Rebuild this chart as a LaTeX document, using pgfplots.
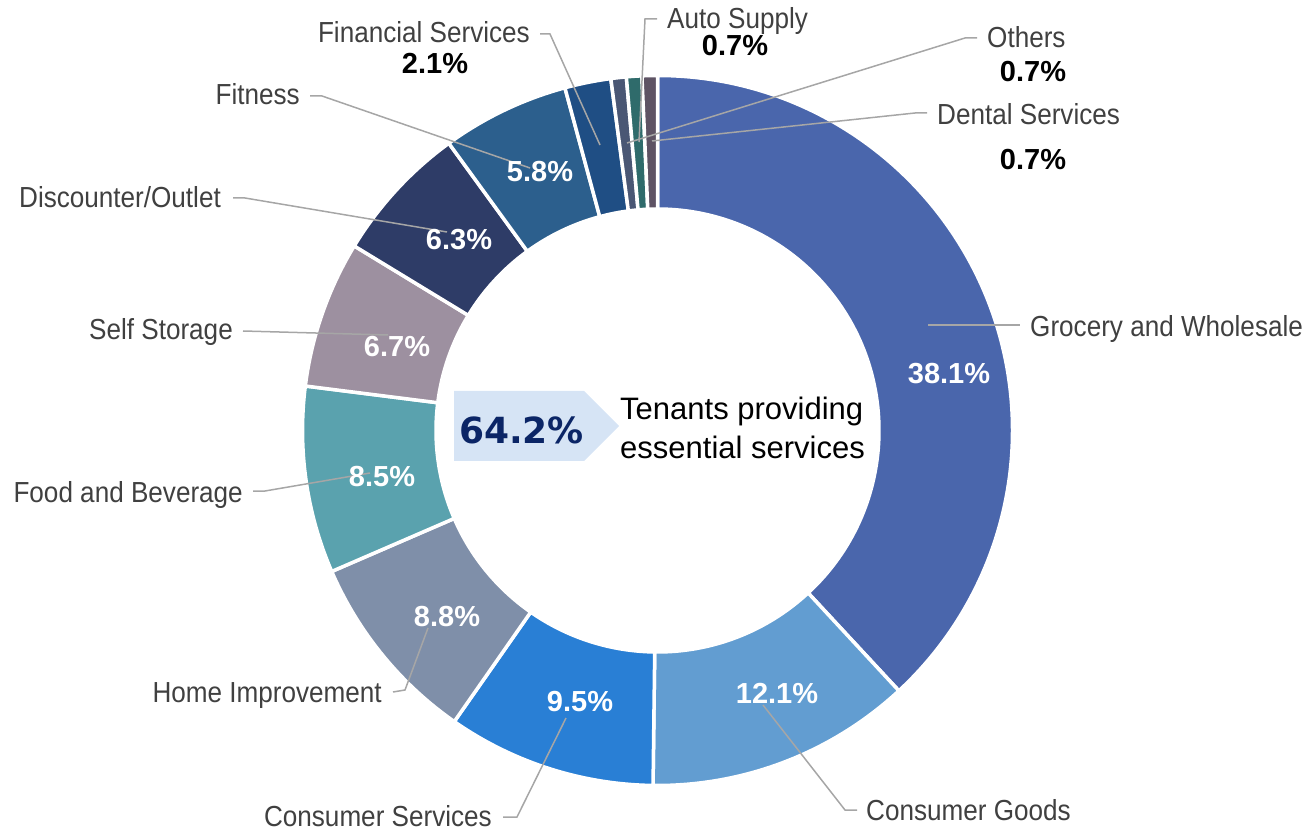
\documentclass[border=0pt]{standalone}
\usepackage{pgfplots}
\pgfplotsset{compat=1.18}
\usepackage{pgfplotstable}
\usepackage{fontspec}
\setmainfont{Liberation Sans}
\newfontfamily\labfont[FakeStretch=0.9]{Liberation Sans}
\newfontfamily\dvfont{DejaVu Sans}

\definecolor{cGro}{HTML}{4A66AC}
\definecolor{cCG}{HTML}{629DD1}
\definecolor{cCS}{HTML}{297FD5}
\definecolor{cHI}{HTML}{7F8FA9}
\definecolor{cFB}{HTML}{5AA2AE}
\definecolor{cSS}{HTML}{9D90A0}
\definecolor{cDO}{HTML}{2E3C67}
\definecolor{cFit}{HTML}{2C5F8D}
\definecolor{cFin}{HTML}{1F4E84}
\definecolor{cOth}{HTML}{4A5774}
\definecolor{cAuto}{HTML}{2F6B6B}
\definecolor{cDen}{HTML}{5E5364}
\definecolor{labgray}{HTML}{404040}
\definecolor{leadgray}{HTML}{A6A6A6}
\definecolor{boxblue}{HTML}{D6E4F5}
\definecolor{navy}{HTML}{0B2566}

% share (%) and colour of each slice, clockwise from the top
\pgfplotstableread{
value col
38.1 cGro
12.1 cCG
9.5 cCS
8.8 cHI
8.5 cFB
6.7 cSS
6.3 cDO
5.8 cFit
2.1 cFin
0.7 cOth
0.7 cAuto
0.7 cDen
}\slices

\tikzset{
  leader/.style={draw=leadgray, line width=1.5pt},
  lab/.style={text=labgray, font=\labfont\fontsize{29}{33}\selectfont, inner sep=0pt},
  pctw/.style={text=white, font=\bfseries\fontsize{29}{33}\selectfont, inner sep=0pt, anchor=center},
  pctb/.style={text=black, font=\bfseries\fontsize{29}{33}\selectfont, inner sep=0pt, anchor=center},
}

\begin{document}
\begin{tikzpicture}
\begin{axis}[x=1pt, y=1pt, xmin=0, xmax=1309, ymin=0, ymax=831,
  hide axis, clip=false]
\pgfplotsextra{
  % frame of the whole picture (invisible)
  \path (axis cs:0,0) rectangle (axis cs:1309,831);
  \coordinate (C) at (axis cs:657.5,400.5);
  \pgfplotstablegetrowsof{\slices}
  \pgfmathtruncatemacro\N{\pgfplotsretval-1}
  \gdef\angA{90}
  \foreach \i in {0,...,\N}{
    \pgfplotstablegetelem{\i}{value}\of\slices
    \let\sliceval\pgfplotsretval
    \pgfplotstablegetelem{\i}{col}\of\slices
    \let\slicecol\pgfplotsretval
    \pgfmathsetmacro\angB{\angA-3.6*\sliceval}
    \fill[fill=\slicecol, draw=white, line width=3.5pt]
      ([shift={(\angA:355pt)}]C) arc[start angle=\angA, end angle=\angB, radius=355pt]
      -- ([shift={(\angB:221.5pt)}]C) arc[start angle=\angB, end angle=\angA, radius=221.5pt]
      -- cycle;
    \xdef\angA{\angB}
  }
  % leader lines
  \draw[leader] (axis cs:928,506) -- (axis cs:1020,506);
  \draw[leader] (axis cs:763,126) -- (axis cs:845,21) -- (axis cs:857,21);
  \draw[leader] (axis cs:566,113) -- (axis cs:517,14) -- (axis cs:503,14);
  \draw[leader] (axis cs:428,203) -- (axis cs:405,141) -- (axis cs:393,139);
  \draw[leader] (axis cs:370,358) -- (axis cs:265,340) -- (axis cs:253,340);
  \draw[leader] (axis cs:388,496) -- (axis cs:243,500);
  \draw[leader] (axis cs:447,599) -- (axis cs:245,633) -- (axis cs:233,633);
  \draw[leader] (axis cs:530,663) -- (axis cs:322,735) -- (axis cs:310,735);
  \draw[leader] (axis cs:600,686) -- (axis cs:550,797) -- (axis cs:540,797);
  \draw[leader] (axis cs:639,689) -- (axis cs:645,812) -- (axis cs:657,812);
  \draw[leader] (axis cs:627,688) -- (axis cs:965,793) -- (axis cs:977,793);
  \draw[leader] (axis cs:652,690) -- (axis cs:915,718) -- (axis cs:927,718);
  % centre arrow box
  \fill[boxblue] (axis cs:454,440) -- (axis cs:584,440) -- (axis cs:619,405)
    -- (axis cs:584,370) -- (axis cs:454,370) -- cycle;
}
% category labels
\node[lab, anchor=base west] at (axis cs:1030,494) {Grocery and Wholesale};
\node[lab, anchor=base west] at (axis cs:866,11) {Consumer Goods};
\node[lab, anchor=base east] at (axis cs:492,5) {Consumer Services};
\node[lab, anchor=base east] at (axis cs:382,129) {Home Improvement};
\node[lab, anchor=base east] at (axis cs:243,329) {Food and Beverage};
\node[lab, anchor=base east] at (axis cs:233,491) {Self Storage};
\node[lab, anchor=base east] at (axis cs:221,623) {Discounter/Outlet};
\node[lab, anchor=base east] at (axis cs:300,726) {Fitness};
\node[lab, anchor=base east] at (axis cs:530,788) {Financial Services};
\node[lab, anchor=base west] at (axis cs:667,802) {Auto Supply};
\node[lab, anchor=base west] at (axis cs:987,783) {Others};
\node[lab, anchor=base west] at (axis cs:937,706) {Dental Services};
% value labels
\node[pctw] at (axis cs:949,457) {38.1\%};
\node[pctw] at (axis cs:777,138) {12.1\%};
\node[pctw] at (axis cs:580,129) {9.5\%};
\node[pctw] at (axis cs:447,214) {8.8\%};
\node[pctw] at (axis cs:382,354) {8.5\%};
\node[pctw] at (axis cs:397,484) {6.7\%};
\node[pctw] at (axis cs:459,591) {6.3\%};
\node[pctw] at (axis cs:540,659) {5.8\%};
\node[pctb] at (axis cs:435,768) {2.1\%};
\node[pctb] at (axis cs:735,785) {0.7\%};
\node[pctb] at (axis cs:1033,759) {0.7\%};
\node[pctb] at (axis cs:1033,671) {0.7\%};
% centre text
\node[text=navy, font=\dvfont\bfseries\fontsize{36}{40}\selectfont, inner sep=0pt, anchor=center] at (axis cs:521.5,401) {64.2\%};
\node[text=black, font=\fontsize{31}{36}\selectfont, inner sep=0pt, anchor=base west] at (axis cs:620,411) {Tenants providing};
\node[text=black, font=\fontsize{31}{36}\selectfont, inner sep=0pt, anchor=base west] at (axis cs:620,372) {essential services};
\end{axis}
\end{tikzpicture}
\end{document}
